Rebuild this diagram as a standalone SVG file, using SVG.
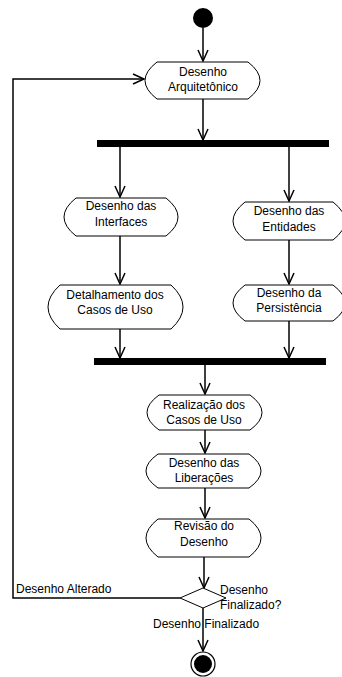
<svg xmlns="http://www.w3.org/2000/svg" width="342" height="677" viewBox="0 0 342 677">
<style>
.node path{fill:#fff;stroke:#000;stroke-width:1}
text{font-family:"Liberation Sans",Arial,sans-serif;font-size:12px;fill:#000}
.c{text-anchor:middle}
.edge{fill:none;stroke:#000;stroke-width:1.5}
.bar{fill:#000}
</style>
<defs>
<marker id="arr" markerUnits="userSpaceOnUse" markerWidth="14" markerHeight="14" viewBox="-12 -7 14 14" refX="0" refY="0" orient="auto">
<path d="M-11,-5 L0,0 L-11,5" fill="none" stroke="#000" stroke-width="1.5"/>
</marker>
</defs>
<rect width="342" height="677" fill="#fff"/>
<g id="connectors">
<path class="edge" d="M203,28 V61" marker-end="url(#arr)"/>
<path class="edge" d="M203,99 V140" marker-end="url(#arr)"/>
<path class="edge" d="M120,147 V197" marker-end="url(#arr)"/>
<path class="edge" d="M289,147 V201" marker-end="url(#arr)"/>
<path class="edge" d="M120,236 V284" marker-end="url(#arr)"/>
<path class="edge" d="M289,240 V284" marker-end="url(#arr)"/>
<path class="edge" d="M120,329 V358" marker-end="url(#arr)"/>
<path class="edge" d="M289,321 V358" marker-end="url(#arr)"/>
<path class="edge" d="M205,365 V394" marker-end="url(#arr)"/>
<path class="edge" d="M205,430 V453" marker-end="url(#arr)"/>
<path class="edge" d="M205,488 V518" marker-end="url(#arr)"/>
<path class="edge" d="M204,557 V588" marker-end="url(#arr)"/>
<path class="edge" d="M203,608 V651" marker-end="url(#arr)"/>
<path class="edge" d="M180,598 H13 V79 H144" marker-end="url(#arr)"/>
<text x="16" y="593">Desenho Alterado</text>
<text x="153" y="628">Desenho Finalizado</text>
</g>
<g id="start"><circle cx="203" cy="18" r="10" fill="#000"/></g>
<g id="arquitetonico" class="node">
<path d="M157,62 H248 Q272,80.5 248,99 H157 Q133,80.5 157,62 Z"/>
<text class="c" x="203" y="76">Desenho</text>
<text class="c" x="203" y="91">Arquitetônico</text>
</g>
<g id="fork"><rect class="bar" x="97" y="140" width="232" height="7"/></g>
<g id="interfaces" class="node">
<path d="M76,198 H166 Q190,217 166,236 H76 Q52,217 76,198 Z"/>
<text class="c" x="121" y="210">Desenho das</text>
<text class="c" x="121" y="226">Interfaces</text>
</g>
<g id="entidades" class="node">
<path d="M245,202 H333 Q357,221 333,240 H245 Q221,221 245,202 Z"/>
<text class="c" x="289" y="215">Desenho das</text>
<text class="c" x="289" y="231">Entidades</text>
</g>
<g id="detalhamento" class="node">
<path d="M60,285 H171 Q195,307 171,329 H60 Q36,307 60,285 Z"/>
<text class="c" x="115" y="299">Detalhamento dos</text>
<text class="c" x="115" y="314">Casos de Uso</text>
</g>
<g id="persistencia" class="node">
<path d="M245,285 H333 Q357,303 333,321 H245 Q221,303 245,285 Z"/>
<text class="c" x="289" y="297">Desenho da</text>
<text class="c" x="289" y="312">Persistência</text>
</g>
<g id="join"><rect class="bar" x="94" y="358" width="232" height="7"/></g>
<g id="realizacao" class="node">
<path d="M159,395 H250 Q274,412.5 250,430 H159 Q135,412.5 159,395 Z"/>
<text class="c" x="204" y="409">Realização dos</text>
<text class="c" x="204" y="424">Casos de Uso</text>
</g>
<g id="liberacoes" class="node">
<path d="M158,454 H249 Q273,471 249,488 H158 Q134,471 158,454 Z"/>
<text class="c" x="204" y="467">Desenho das</text>
<text class="c" x="204" y="482">Liberações</text>
</g>
<g id="revisao" class="node">
<path d="M158,519 H249 Q273,538 249,557 H158 Q134,538 158,519 Z"/>
<text class="c" x="204" y="530">Revisão do</text>
<text class="c" x="204" y="546">Desenho</text>
</g>
<g id="decisao">
<path d="M180,598 L203,588 L226,598 L203,608 Z" fill="#fff" stroke="#000" stroke-width="1"/>
<text x="220" y="594">Desenho</text>
<text x="220" y="609">Finalizado?</text>
</g>
<g id="fim">
<circle cx="203" cy="664" r="12" fill="#fff" stroke="#000" stroke-width="1.2"/>
<circle cx="203" cy="664" r="9" fill="#000"/>
</g>
</svg>
